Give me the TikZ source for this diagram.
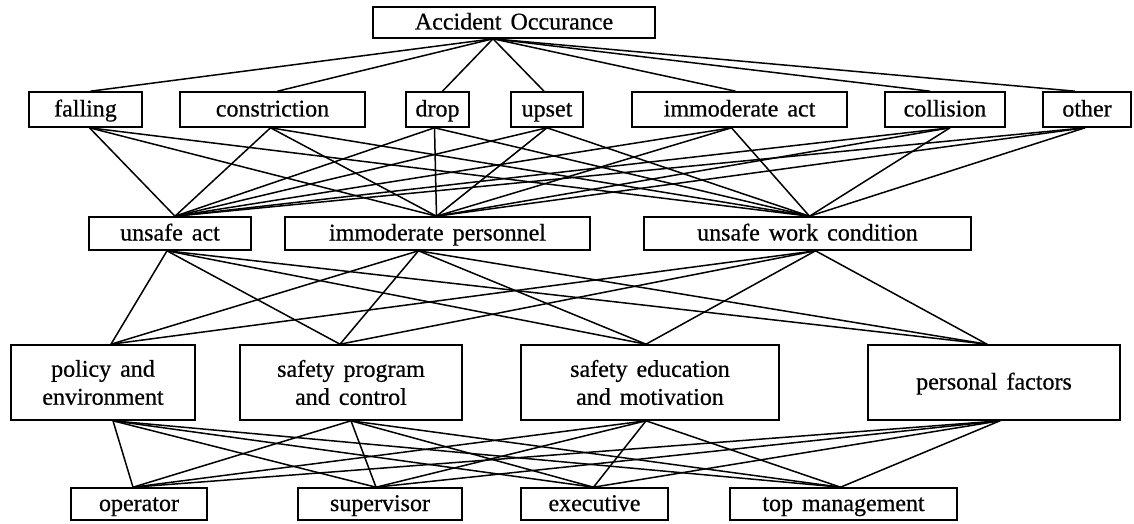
\documentclass[tikz,border=0pt]{standalone}
\usepackage{fontspec}
\setmainfont{Liberation Serif}[WordSpace=1.5,FakeBold=0.6]
\begin{document}
\begin{tikzpicture}[x=1pt,y=-1pt,
  box/.style={draw,line width=1.6pt,inner sep=0pt,align=center,
    font=\fontsize{24}{28}\selectfont},
  onebox/.style={box,text height=18pt,text depth=4pt},
  link/.style={line width=1.5pt}]
\useasboundingbox (0,0) rectangle (1134,524);
% row 1
\node[onebox,minimum width=282,minimum height=31] (acc) at (514,22.5) {Accident Occurance};
% row 2
\node[onebox,minimum width=113,minimum height=35] (fal) at (85.5,109.5) {falling};
\node[onebox,minimum width=185,minimum height=35] (con) at (272.5,109.5) {constriction};
\node[onebox,minimum width=63,minimum height=35] (dro) at (437.5,109.5) {drop};
\node[onebox,minimum width=72,minimum height=35] (ups) at (547,109.5) {upset};
\node[onebox,minimum width=215,minimum height=35] (ima) at (739.5,109.5) {immoderate act};
\node[onebox,minimum width=120,minimum height=35] (col) at (945,109.5) {collision};
\node[onebox,minimum width=88,minimum height=35] (oth) at (1087,109.5) {other};
% row 3
\node[onebox,minimum width=162,minimum height=33] (ua) at (170,233.5) {unsafe act};
\node[onebox,minimum width=305,minimum height=33] (ip) at (437.5,233.5) {immoderate personnel};
\node[onebox,minimum width=327,minimum height=33] (uw) at (807.5,233.5) {unsafe work condition};
% row 4
\node[box,minimum width=184,minimum height=75] (pol) at (103,382.5) {policy and\\environment};
\node[box,minimum width=222,minimum height=75] (spc) at (351,382.5) {safety program\\and control};
\node[box,minimum width=258,minimum height=75] (sem) at (650,382.5) {safety education\\and motivation};
\node[onebox,minimum width=252,minimum height=75] (pf) at (994,382.5) {personal factors};
% row 5
\node[onebox,minimum width=136,minimum height=32] (op) at (139,504) {operator};
\node[onebox,minimum width=164,minimum height=32] (sup) at (380,504) {supervisor};
\node[onebox,minimum width=147,minimum height=32] (exe) at (594.5,504) {executive};
\node[onebox,minimum width=227,minimum height=32] (tm) at (843.5,504) {top management};
% links row1 -> row2
\foreach \b/\db in {fal/5,con/5,dro/5,ups/-3,ima/-4,col/-15,oth/-12}
  \draw[link] ([xshift=-21pt]acc.south) -- ([xshift=\db pt]\b.north);
% links row2 -> row3
\foreach \a/\da in {fal/4,con/-2,dro/-3,ups/0,ima/-8,col/5,oth/-2}
  \foreach \b/\db in {ua/5,ip/-1,uw/2}
    \draw[link] ([xshift=\da pt]\a.south) -- ([xshift=\db pt]\b.north);
% links row3 -> row4
\foreach \a/\da in {ua/-3,ip/-19,uw/8}
  \foreach \b/\db in {pol/8,spc/-11,sem/-4,pf/-7}
    \draw[link] ([xshift=\da pt]\a.south) -- ([xshift=\db pt]\b.north);
% links row4 -> row5
\foreach \a/\da in {pol/10,spc/0,sem/-4,pf/6}
  \foreach \b/\db in {op/-6,sup/-4,exe/-1,tm/-3}
    \draw[link] ([xshift=\da pt]\a.south) -- ([xshift=\db pt]\b.north);
\end{tikzpicture}
\end{document}
